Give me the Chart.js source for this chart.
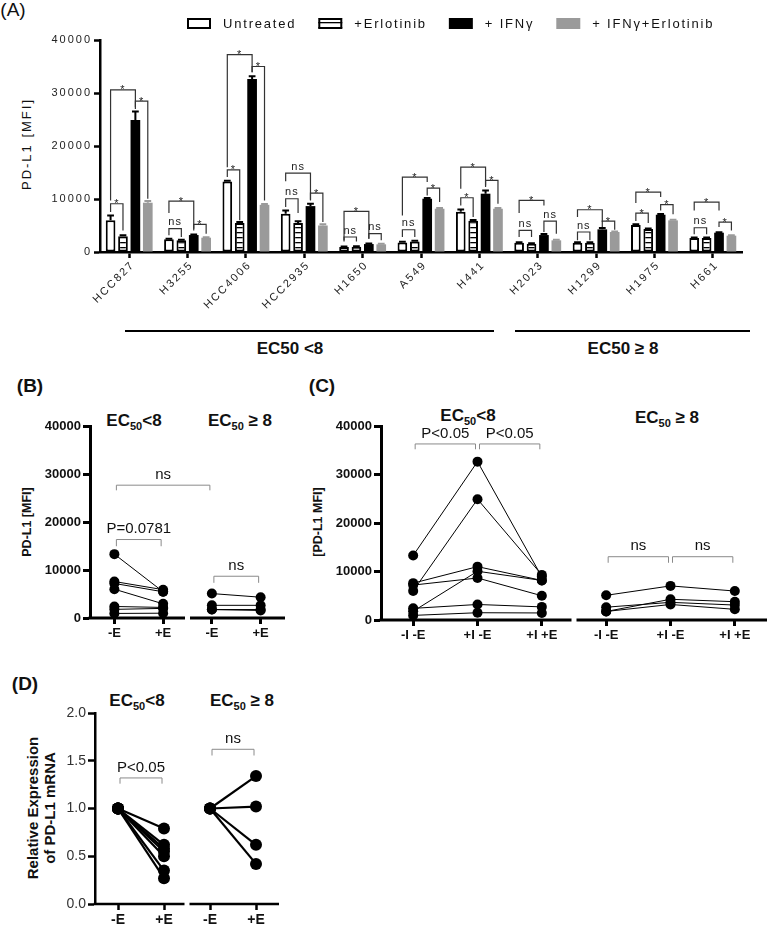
<!DOCTYPE html>
<html>
<head>
<meta charset="utf-8">
<script src="https://cdn.jsdelivr.net/npm/chart.js@4.4.0/dist/chart.umd.min.js"></script>
<style>
  body { margin: 0; background: #fff; width: 772px; height: 925px; position: relative; overflow: hidden;
         font-family: 'Liberation Sans', Arial, sans-serif; color: #111; }
  canvas { position: absolute; }
  .c { position: absolute; transform: translate(-50%, -50%); white-space: nowrap; line-height: 1; }
  .r { position: absolute; transform: translate(-50%, -50%) rotate(-90deg); white-space: nowrap; line-height: 1; text-align: center; }
  .b { font-weight: bold; }
  .sub { font-size: 11px; position: relative; top: 4px; }
  .hl { position: absolute; height: 0; border-top: 2px solid #000; }
</style>
</head>
<body>

<div class="c" style="left:13px;top:9px;font-size:19px">(A)</div>
<div class="r" style="left:26px;top:144px;font-size:13px;letter-spacing:2px">PD-L1 [MFI]</div>
<div class="hl" style="left:125px;top:330px;width:369px"></div>
<div class="hl" style="left:515px;top:330px;width:235px"></div>
<div class="c b" style="left:290px;top:348px;font-size:17px">EC50 &lt;8</div>
<div class="c b" style="left:623px;top:348px;font-size:17px">EC50 ≥ 8</div>

<div class="c b" style="left:30px;top:385px;font-size:19px">(B)</div>
<div class="c b" style="left:134px;top:420px;font-size:17px">EC<span class="sub">50</span>&lt;8</div>
<div class="c b" style="left:240px;top:420px;font-size:17px">EC<span class="sub">50</span> ≥ 8</div>
<div class="r b" style="left:27px;top:522px;font-size:12.5px">PD-L1 [MFI]</div>

<div class="c b" style="left:322px;top:385px;font-size:19px">(C)</div>
<div class="c b" style="left:468px;top:415px;font-size:17px">EC<span class="sub">50</span>&lt;8</div>
<div class="c b" style="left:667px;top:417px;font-size:17px">EC<span class="sub">50</span> ≥ 8</div>
<div class="r b" style="left:318px;top:522px;font-size:12.5px">[PD-L1 MFI]</div>

<div class="c b" style="left:25px;top:683px;font-size:19px">(D)</div>
<div class="c b" style="left:137px;top:700px;font-size:17px">EC<span class="sub">50</span>&lt;8</div>
<div class="c b" style="left:242px;top:700px;font-size:17px">EC<span class="sub">50</span> ≥ 8</div>
<div class="r b" style="left:41px;top:808px;font-size:15px;line-height:17px">Relative Expression<br>of PD-L1 mRNA</div>

<canvas id="chartA" width="772" height="330" style="left:0;top:0"></canvas>
<canvas id="chartB" width="290" height="240" style="left:0;top:410px"></canvas>
<canvas id="chartC" width="472" height="240" style="left:300px;top:410px"></canvas>
<canvas id="chartD" width="285" height="230" style="left:0;top:695px"></canvas>

<script>
// ---- data ----
const cellLines = ['HCC827', 'H3255', 'HCC4006', 'HCC2935', 'H1650', 'A549', 'H441', 'H2023', 'H1299', 'H1975', 'H661'];
const lowCount = 7; // first 7 lines are EC50 < 8

const untreated        = [6000, 2400, 13300, 7200, 950, 1800, 7600, 1760, 1760, 5090, 2640];
const untreatedErr     = [900, 100, 150, 650, 100, 150, 400, 100, 100, 150, 100];
const erlotinib        = [2950, 2200, 5460, 5460, 1000, 2000, 5900, 1570, 1760, 4330, 2640];
const erlotinibErr     = [200, 100, 200, 350, 100, 100, 150, 100, 100, 100, 100];
const ifng             = [24900, 3200, 32650, 8660, 1500, 10050, 11000, 3200, 4270, 7030, 3640];
const ifngErr          = [1600, 100, 500, 450, 100, 150, 600, 200, 250, 150, 100];
const ifngErlotinib    = [9300, 2700, 8900, 5000, 1450, 8160, 8160, 2200, 3770, 5970, 3080];
const ifngErlotinibErr = [300, 100, 150, 250, 100, 150, 150, 100, 100, 100, 100];

const seriesNames = ['Untreated', '+Erlotinib', '+ IFNγ', '+ IFNγ+Erlotinib'];

// significance brackets in A: [cell line, bar a, bar b, level, left leg end, right leg end, label]
const barBrackets = [
  [0, 0, 1, 9100, 7530, 4080, '*'], [0, 0, 2, 30580, 9730, 27300, '*'], [0, 2, 3, 28450, 27000, 10050, '*'],
  [1, 0, 1, 4400, 3140, 2830, 'ns'], [1, 0, 2, 9600, 7350, 4400, '*'], [1, 2, 3, 5200, 4080, 3450, '*'],
  [2, 0, 1, 15500, 14130, 5970, '*'], [2, 0, 2, 37240, 16000, 33900, '*'], [2, 2, 3, 35000, 33900, 9730, '*'],
  [3, 0, 1, 10050, 8480, 7350, 'ns'], [3, 0, 2, 14880, 13370, 9730, 'ns'], [3, 2, 3, 11110, 9860, 5650, '*'],
  [4, 0, 1, 2830, 2000, 2000, 'ns'], [4, 0, 2, 7660, 2200, 2500, '*'], [4, 2, 3, 3450, 2500, 2200, 'ns'],
  [5, 0, 1, 4200, 2830, 2830, 'ns'], [5, 0, 2, 14130, 6900, 13190, '*'], [5, 2, 3, 12060, 10680, 9420, '*'],
  [6, 0, 1, 10240, 8790, 6600, '*'], [6, 0, 2, 16010, 11930, 12250, '*'], [6, 2, 3, 13500, 12560, 9100, '*'],
  [7, 0, 1, 4080, 2830, 2830, 'ns'], [7, 0, 2, 9730, 7350, 8790, '*'], [7, 2, 3, 5840, 3770, 3450, 'ns'],
  [8, 0, 1, 3770, 2200, 2200, 'ns'], [8, 0, 2, 7970, 6590, 5650, '*'], [8, 2, 3, 5840, 4710, 4200, '*'],
  [9, 0, 1, 7350, 5840, 5460, '*'], [9, 0, 2, 11300, 9230, 10360, '*'], [9, 2, 3, 8920, 7850, 7100, '*'],
  [10, 0, 1, 4580, 3330, 3330, 'ns'], [10, 0, 2, 9420, 7850, 7850, '*'], [10, 2, 3, 5650, 4710, 4080, '*']
];

// panel B / C / D
const labelsB = ['-E', '+E', '-E', '+E'];
const labelsC = ['-I -E', '+I -E', '+I +E', '-I -E', '+I -E', '+I +E'];
const labelsD = ['-E', '+E', '-E', '+E'];

const mrnaLowMinusE  = [1, 1, 1, 1, 1, 1, 1];
const mrnaLowPlusE   = [0.79, 0.62, 0.58, 0.55, 0.50, 0.35, 0.27];
const mrnaHighMinusE = [1, 1, 1, 1];
const mrnaHighPlusE  = [1.34, 1.02, 0.62, 0.42];

// brackets: [x from, x to, level, leg end, label]
const bracketsB = [[0, 2, 27670, 26600, 'ns'], [0, 1, 16350, 14950, 'P=0.0781'], [2, 3, 8700, 7330, 'ns']];
const bracketsC = [[0, 1, 36300, 35200, 'P<0.05'], [1, 2, 36300, 35200, 'P<0.05'],
                   [3, 4, 13050, 11800, 'ns'], [4, 5, 13050, 11800, 'ns']];
const bracketsD = [[0, 1, 1.32, 1.26, 'P<0.05'], [2, 3, 1.62, 1.555, 'ns']];

// ---- helpers ----
Chart.defaults.font.family = "'Liberation Sans', Arial, sans-serif";
Chart.defaults.color = '#111';

function stripePattern(ctx) {
  const c = document.createElement('canvas');
  c.width = 6; c.height = 5;
  const g = c.getContext('2d');
  g.fillStyle = '#fff'; g.fillRect(0, 0, 6, 5);
  g.fillStyle = '#000'; g.fillRect(0, 2, 6, 1.3);
  return ctx.createPattern(c, 'repeat');
}

const ctxA = document.getElementById('chartA').getContext('2d');
const stripes = stripePattern(ctxA);
const plain = v => String(v);

const barPlugin = {
  id: 'barExtras',
  beforeDraw(chart) { chart.ctx.letterSpacing = '2px'; },
  afterDatasetsDraw(chart) {
    const ctx = chart.ctx, y = chart.scales.y;
    // error bars
    chart.data.datasets.forEach((ds, di) => {
      const meta = chart.getDatasetMeta(di);
      ctx.save();
      ctx.strokeStyle = ds.errColor; ctx.lineWidth = 2;
      meta.data.forEach((el, i) => {
        const top = y.getPixelForValue(ds.data[i]);
        const hi = y.getPixelForValue(ds.data[i] + ds.errors[i]);
        const w = el.width * 0.35;
        ctx.beginPath();
        ctx.moveTo(el.x, top); ctx.lineTo(el.x, hi);
        ctx.moveTo(el.x - w, hi); ctx.lineTo(el.x + w, hi);
        ctx.stroke();
      });
      ctx.restore();
    });
    // brackets
    ctx.save();
    ctx.strokeStyle = '#333'; ctx.lineWidth = 1.2;
    ctx.fillStyle = '#222'; ctx.font = '11px ' + Chart.defaults.font.family;
    ctx.letterSpacing = '1px'; ctx.textAlign = 'center'; ctx.textBaseline = 'bottom';
    barBrackets.forEach(([cat, a, b, level, la, lb, label]) => {
      const xa = chart.getDatasetMeta(a).data[cat].x;
      const xb = chart.getDatasetMeta(b).data[cat].x;
      const yl = y.getPixelForValue(level);
      ctx.beginPath();
      ctx.moveTo(xa, y.getPixelForValue(la)); ctx.lineTo(xa, yl);
      ctx.lineTo(xb, yl); ctx.lineTo(xb, y.getPixelForValue(lb));
      ctx.stroke();
      ctx.fillText(label, (xa + xb) / 2, label === '*' ? yl + 6 : yl - 1);
    });
    ctx.restore();
  },
  afterDraw(chart) {
    const ctx = chart.ctx, xs = chart.scales.x;
    ctx.save();
    ctx.font = '11px ' + Chart.defaults.font.family;
    ctx.letterSpacing = '2px';
    ctx.fillStyle = '#222'; ctx.textAlign = 'right'; ctx.textBaseline = 'middle';
    cellLines.forEach((name, i) => {
      ctx.save();
      ctx.translate(xs.getPixelForTick(i) + 4, chart.chartArea.bottom + 11);
      ctx.rotate(-Math.PI / 4);
      ctx.fillText(name, 0, 0);
      ctx.restore();
    });
    // legend
    ctx.font = '13px ' + Chart.defaults.font.family;
    ctx.letterSpacing = '1.8px';
    ctx.textAlign = 'left';
    let lx = 187;
    chart.data.datasets.forEach(ds => {
      ctx.fillStyle = ds.backgroundColor;
      ctx.fillRect(lx, 18, 24, 11);
      if (ds.borderWidth) {
        ctx.strokeStyle = ds.borderColor; ctx.lineWidth = 2;
        ctx.strokeRect(lx + 1, 19, 22, 9);
      }
      ctx.fillStyle = '#111';
      ctx.fillText(ds.label, lx + 36, 24);
      lx += 36 + ctx.measureText(ds.label).width + 22;
    });
    ctx.restore();
    ctx.letterSpacing = '0px';
  }
};

const barStyles = [
  { bg: '#fff', border: '#000', bw: 2, err: '#000' },
  { bg: stripes, border: '#000', bw: 2, err: '#000' },
  { bg: '#000', border: '#000', bw: 0, err: '#000' },
  { bg: '#9a9a9a', border: '#9a9a9a', bw: 0, err: '#9a9a9a' }
];
const barValues = [untreated, erlotinib, ifng, ifngErlotinib];
const barErrors = [untreatedErr, erlotinibErr, ifngErr, ifngErlotinibErr];

new Chart(ctxA, {
  type: 'bar',
  data: {
    labels: cellLines,
    datasets: seriesNames.map((name, i) => ({
      label: name,
      data: barValues[i],
      errors: barErrors[i],
      backgroundColor: barStyles[i].bg,
      borderColor: barStyles[i].border,
      borderWidth: barStyles[i].bw,
      borderSkipped: false,
      errColor: barStyles[i].err,
      categoryPercentage: 0.85,
      barPercentage: 0.78
    }))
  },
  options: {
    responsive: false,
    animation: false,
    layout: { padding: { top: 40, right: 30, left: 0, bottom: 0 } },
    plugins: { legend: { display: false }, tooltip: { enabled: false } },
    scales: {
      x: {
        offset: true,
        ticks: { display: false },
        grid: { drawOnChartArea: false, offset: false, tickLength: 6, tickWidth: 2.5, tickColor: '#000' },
        border: { display: true, width: 2.5, color: '#000' },
        afterFit(s) { s.height = 78; }
      },
      y: {
        min: 0, max: 40000,
        ticks: { stepSize: 10000, callback: plain, font: { size: 11 }, color: '#222', padding: 2 },
        grid: { drawOnChartArea: false, tickLength: 6, tickWidth: 2.5, tickColor: '#000' },
        border: { display: true, width: 2.5, color: '#000' },
        afterFit(s) { s.width = 100; }
      }
    }
  },
  plugins: [barPlugin]
});

// plugin for the dot plots: split x axis line and brackets
const dotPlugin = {
  id: 'dotExtras',
  afterDraw(chart, args, opts) {
    const ctx = chart.ctx, xs = chart.scales.x, ys = chart.scales.y, a = chart.chartArea;
    ctx.save();
    ctx.strokeStyle = '#000'; ctx.lineWidth = opts.axisWidth;
    const gx = xs.getPixelForValue(opts.gapAt);
    ctx.beginPath();
    ctx.moveTo(a.left - opts.axisWidth / 2, a.bottom); ctx.lineTo(gx - 2.5, a.bottom);
    ctx.moveTo(gx + 2.5, a.bottom); ctx.lineTo(a.right, a.bottom);
    ctx.stroke();
    ctx.strokeStyle = '#8a8a8a'; ctx.lineWidth = 1;
    ctx.fillStyle = '#111'; ctx.font = opts.font + ' ' + Chart.defaults.font.family;
    ctx.textAlign = 'center'; ctx.textBaseline = 'bottom';
    opts.items.forEach(([x0, x1, level, leg, label]) => {
      const p0 = xs.getPixelForValue(x0) + 2, p1 = xs.getPixelForValue(x1) - 2;
      const yl = ys.getPixelForValue(level), yg = ys.getPixelForValue(leg);
      ctx.beginPath();
      ctx.moveTo(p0, yg); ctx.lineTo(p0, yl); ctx.lineTo(p1, yl); ctx.lineTo(p1, yg);
      ctx.stroke();
      ctx.fillText(label, (p0 + p1) / 2, yl - 3);
    });
    ctx.restore();
  }
};

function lineSet(points, radius, width) {
  return {
    data: points, showLine: true, clip: false,
    borderColor: '#000', borderWidth: width,
    pointRadius: radius, pointBackgroundColor: '#000', pointBorderWidth: 0
  };
}

function dotChart(id, datasets, labels, yOpts, cfg) {
  return new Chart(document.getElementById(id), {
    type: 'scatter',
    data: { datasets },
    options: {
      responsive: false,
      animation: false,
      layout: { padding: { top: cfg.top, right: 2, left: 0, bottom: 0 } },
      plugins: {
        legend: { display: false }, tooltip: { enabled: false },
        dotExtras: { items: cfg.brackets, gapAt: (labels.length - 1) / 2, axisWidth: cfg.axisWidth, font: cfg.font }
      },
      scales: {
        x: {
          type: 'linear', min: -0.5, max: labels.length - 0.5,
          afterBuildTicks(s) { s.ticks = labels.map((_, i) => ({ value: i })); },
          ticks: { callback: v => labels[v], font: { size: cfg.xFont, weight: 'bold' }, color: '#111', padding: 2, maxRotation: 0, autoSkip: false },
          grid: { drawOnChartArea: false, tickLength: 6, tickWidth: cfg.axisWidth, tickColor: '#000' },
          border: { display: false },
          afterFit(s) { s.height = cfg.xh; }
        },
        y: Object.assign({
          grid: { drawOnChartArea: false, tickLength: 7, tickWidth: cfg.axisWidth, tickColor: '#000' },
          border: { display: true, width: cfg.axisWidth, color: '#000' },
          afterFit(s) { s.width = cfg.yw; }
        }, yOpts)
      }
    },
    plugins: [dotPlugin]
  });
}

// B
const setsB = [];
cellLines.forEach((_, i) => {
  const x0 = i < lowCount ? 0 : 2;
  setsB.push(lineSet([{ x: x0, y: untreated[i] }, { x: x0 + 1, y: erlotinib[i] }], 5, 1));
});
dotChart('chartB', setsB, labelsB,
  { min: 0, max: 40000, ticks: { stepSize: 10000, callback: plain, font: { size: 13, weight: 'bold' }, color: '#111', padding: 2 } },
  { top: 16, xh: 32, yw: 90, axisWidth: 3, xFont: 13, font: '15px', brackets: bracketsB });

// C
const setsC = [];
cellLines.forEach((_, i) => {
  const x0 = i < lowCount ? 0 : 3;
  setsC.push(lineSet([{ x: x0, y: untreated[i] }, { x: x0 + 1, y: ifng[i] }, { x: x0 + 2, y: ifngErlotinib[i] }], 5, 1));
});
dotChart('chartC', setsC, labelsC,
  { min: 0, max: 40000, ticks: { stepSize: 10000, callback: plain, font: { size: 13, weight: 'bold' }, color: '#111', padding: 2 } },
  { top: 16, xh: 30, yw: 81, axisWidth: 3, xFont: 13, font: '15px', brackets: bracketsC });

// D
const setsD = [];
mrnaLowPlusE.forEach((v, i) => setsD.push(lineSet([{ x: 0, y: mrnaLowMinusE[i] }, { x: 1, y: v }], 6, 2.2)));
mrnaHighPlusE.forEach((v, i) => setsD.push(lineSet([{ x: 2, y: mrnaHighMinusE[i] }, { x: 3, y: v }], 6, 2.2)));
dotChart('chartD', setsD, labelsD,
  { min: 0, max: 2, ticks: { stepSize: 0.5, callback: v => v.toFixed(1), font: { size: 14 }, color: '#333', padding: 2 } },
  { top: 18, xh: 21, yw: 95, axisWidth: 2.5, xFont: 14, font: '15px', brackets: bracketsD });
</script>
</body>
</html>
